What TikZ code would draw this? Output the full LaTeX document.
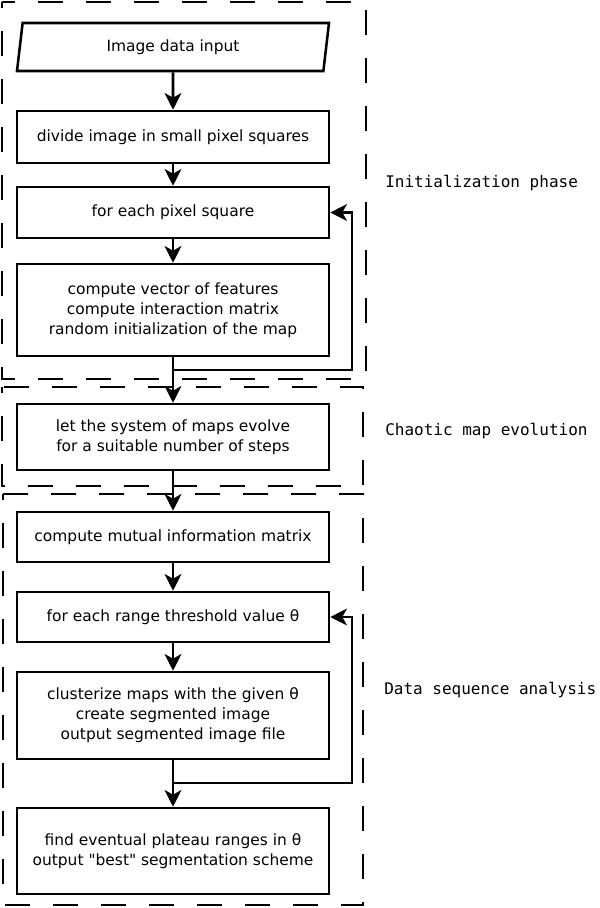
\documentclass[tikz,border=0pt]{standalone}
\usepackage{fontspec}
\setmainfont{DejaVu Sans}
\setmonofont{DejaVu Sans Mono}
\usetikzlibrary{shapes.geometric,arrows.meta}

\tikzset{
  procbox/.style={draw, line width=1.9pt, minimum width=234pt, align=center,
    inner sep=0pt, font=\fontsize{11.6}{15}\selectfont},
  iobox/.style={procbox, trapezium, trapezium left angle=69.4,
    trapezium right angle=110.6, trapezium stretches body},
  phase/.style={line width=1.8pt, dash pattern=on 18.5pt off 17.5pt, dash phase=14pt},
  phaselabel/.style={anchor=west, inner sep=0pt, font=\ttfamily\fontsize{12}{14}\selectfont},
  arr/.style={line width=1.9pt, -{Stealth[length=12.5pt,width=12.5pt,inset=3.5pt]}}
}

\begin{document}
\begin{tikzpicture}[x=0.75pt, y=-0.75pt]

\useasboundingbox (0,0) rectangle (600,908);

% phases
\draw[phase] (2,2) rectangle (366,379);
\draw[phase] (2,387) rectangle (363,486);
\draw[phase] (3,494) rectangle (363,905);

\node[phaselabel] (lInit) at (385,183) {Initialization phase};
\node[phaselabel] (lChaos) at (385,431) {Chaotic map evolution};
\node[phaselabel] (lData) at (384,690) {Data sequence analysis};

% flow
\node[iobox, minimum height=36pt] (input) at (173,47) {Image data input};
\node[procbox, minimum height=39pt] (divide) at (173,137) {divide image in small pixel squares};
\node[procbox, minimum height=38.25pt] (eachsq) at (173,212.5) {for each pixel square};
\node[procbox, minimum height=69pt] (features) at (173,310) {compute vector of features\\compute interaction matrix\\random initialization of the map};
\node[procbox, minimum height=49.5pt] (evolve) at (173,437) {let the system of maps evolve\\for a suitable number of steps};
\node[procbox, minimum height=37.5pt] (mutual) at (173,537) {compute mutual information matrix};
\node[procbox, minimum height=37.5pt] (eachth) at (173,617) {for each range threshold value θ};
\node[procbox, minimum height=65.25pt] (cluster) at (173,715.5) {clusterize maps with the given θ\\create segmented image\\output segmented image file};
\node[procbox, minimum height=64.5pt] (plateau) at (173,851) {find eventual plateau ranges in θ\\output \textquotedbl best\textquotedbl{} segmentation scheme};

\coordinate (loopA) at (352,370);
\coordinate (loopB) at (352,783);

\draw[arr] (input) -- (divide);
\draw[arr] (divide) -- (eachsq);
\draw[arr] (eachsq) -- (features);
\draw[arr] (features) -- (evolve);
\draw[arr] (features.south) |- (loopA) |- (eachsq.east);
\draw[arr] (evolve) -- (mutual);
\draw[arr] (mutual) -- (eachth);
\draw[arr] (eachth) -- (cluster);
\draw[arr] (cluster) -- (plateau);
\draw[arr] (cluster.south) |- (loopB) |- (eachth.east);

\end{tikzpicture}
\end{document}
